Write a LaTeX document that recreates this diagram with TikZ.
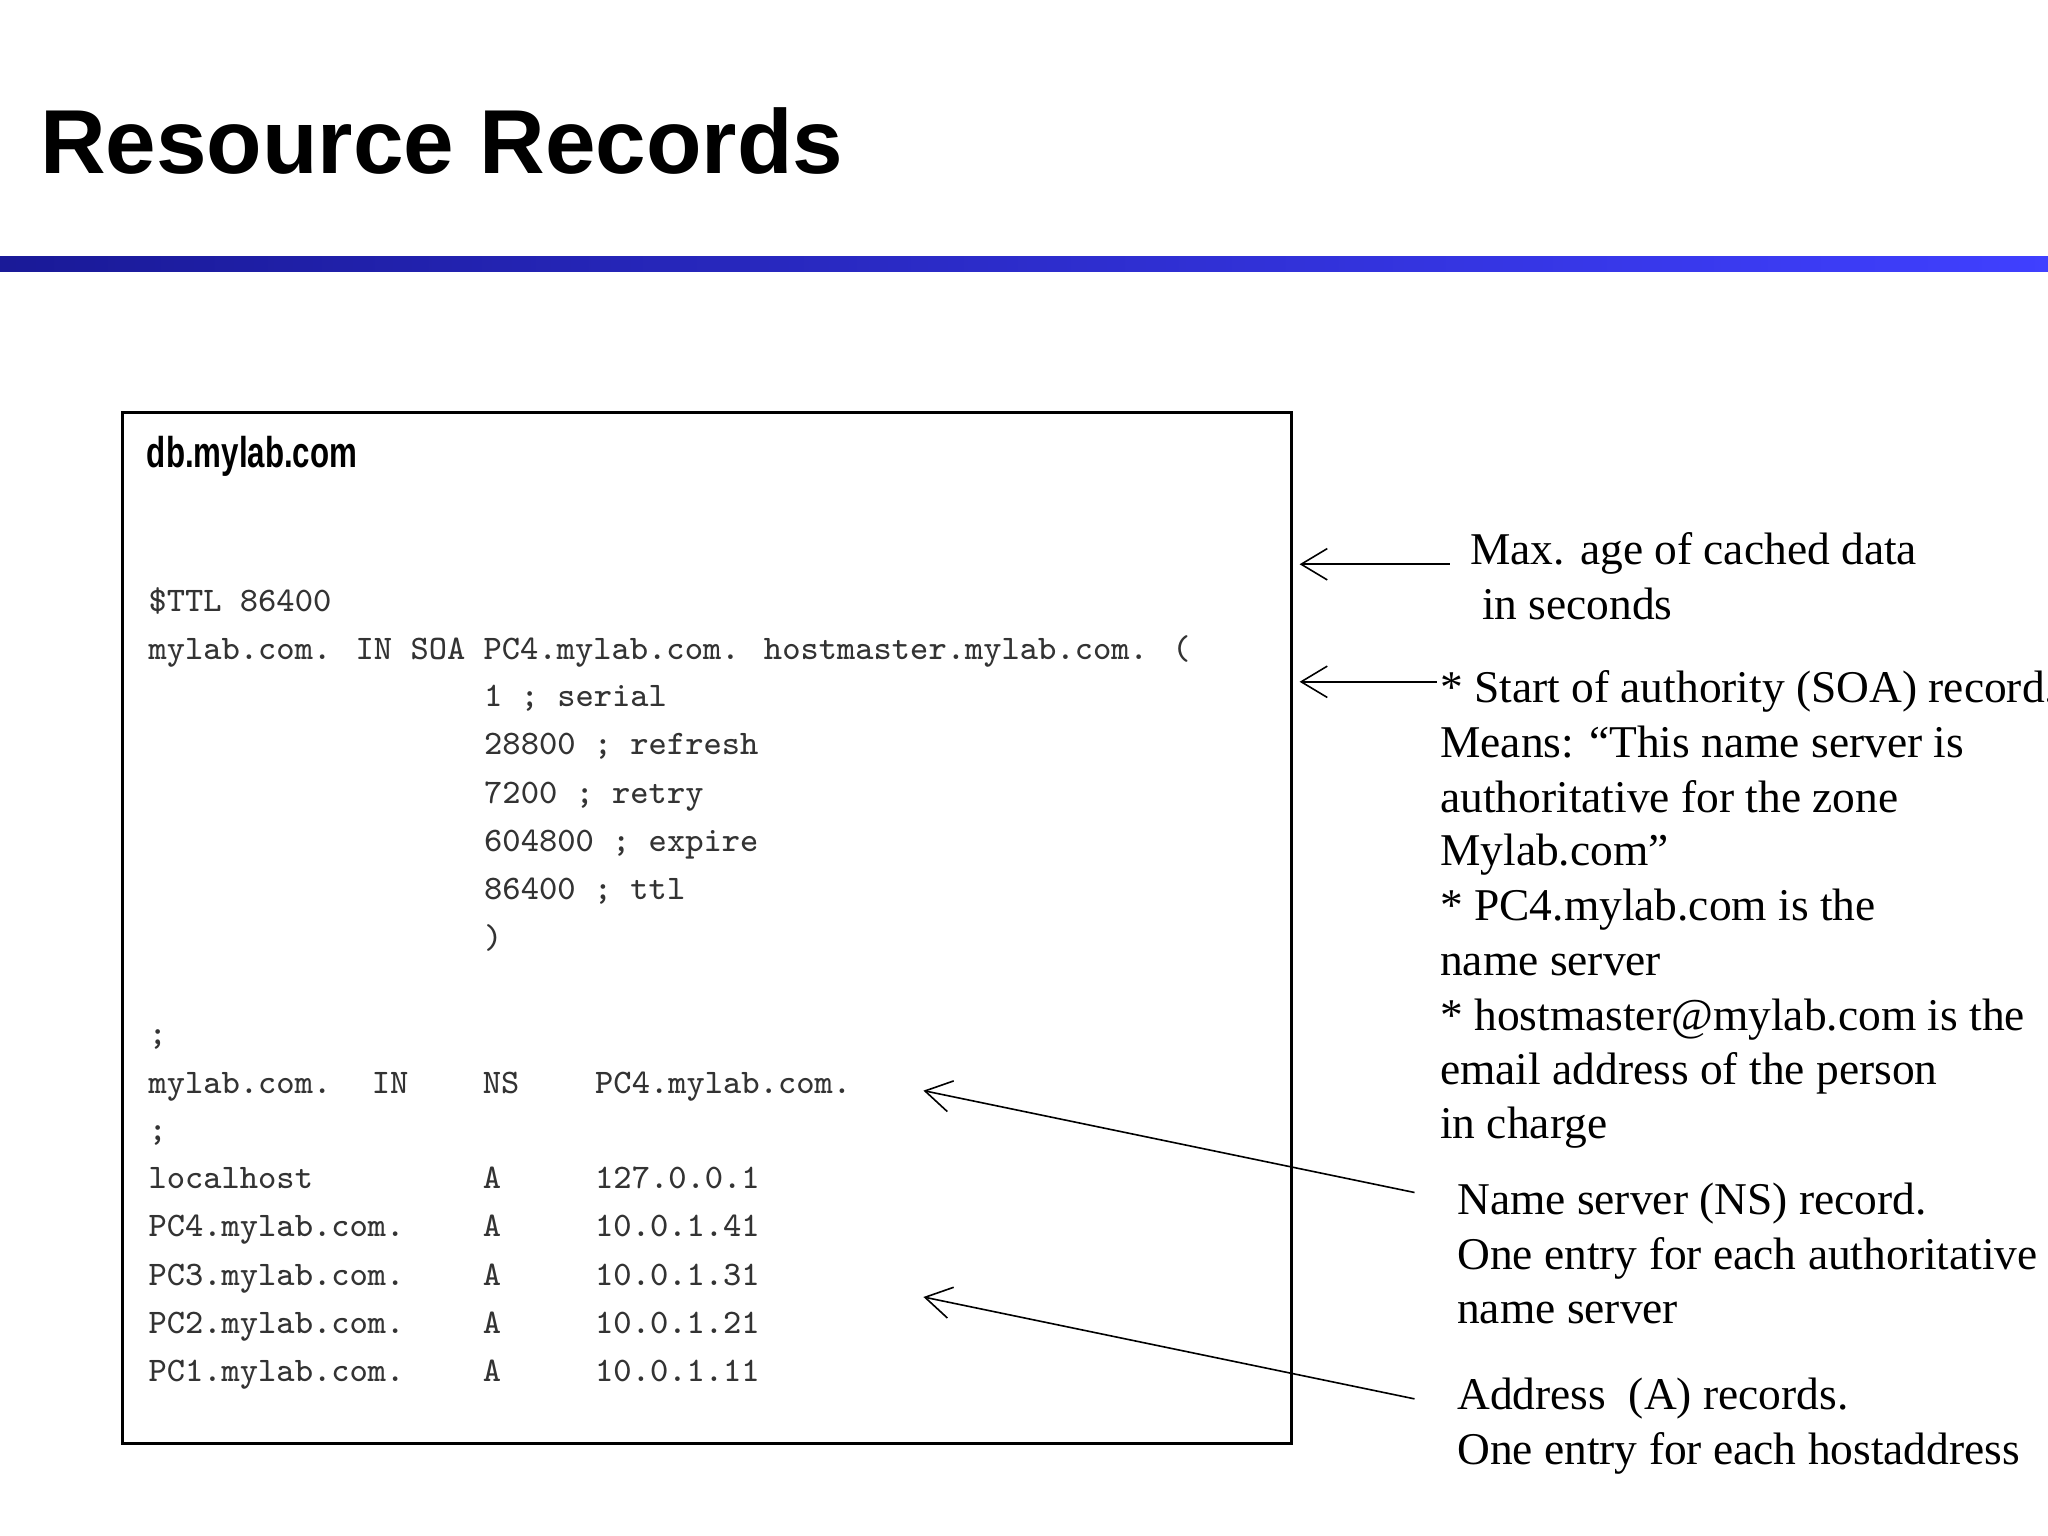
\documentclass[tikz,border=0pt]{standalone}
\usepackage{fontspec}
\setmainfont{Liberation Serif}
\setsansfont{Liberation Sans}
\usetikzlibrary{arrows.meta}
\begin{document}
\begin{tikzpicture}[x=0.1mm,y=-0.1mm,
  mono/.style={anchor=base west,inner sep=0,text=black!80,font=\fontsize{7.5}{10}\ttfamily},
  ann/.style={anchor=base west,inner sep=0,font=\fontsize{9.9}{11.95}\selectfont},
  arr/.style={-{Straight Barb[length=2mm,width=2.4mm]},line width=0.35pt}]
\useasboundingbox (0,0) rectangle (1568,1176);
\fill[white] (0,0) rectangle (1568,1176);
\node[anchor=base west,inner sep=0,font=\fontsize{19.8}{24}\sffamily\bfseries] (title) at (30,133) {Resource Records};
\shade[left color=blue!55!black!90,right color=blue!75] (0,196) rectangle (1568,208);
\draw[line width=0.6pt] (94,316) rectangle (989,1105);
\node[anchor=base west,inner sep=0,xscale=0.725,font=\fontsize{9.4}{11}\sffamily\bfseries] (fname) at (112,358) {db.mylab.com};
\def\xa{113}
\node[mono] (l1) at (\xa,468) {\$TTL 86400};
\node[mono] (l2) at (\xa,505) {mylab.com. IN SOA PC4.mylab.com. hostmaster.mylab.com. (};
\node[mono] (l3) at (370,541) {1 ; serial};
\node[mono] (l4) at (370,578) {28800 ; refresh};
\node[mono] (l5) at (370,615) {7200 ; retry};
\node[mono] (l6) at (370,652) {604800 ; expire};
\node[mono] (l7) at (370,689) {86400 ; ttl};
\node[mono] (l8) at (370,726) {)};
\node[mono] (l9) at (\xa,800) {;};
\node[mono] (n1) at (\xa,837) {mylab.com.};
\node[mono] (n2) at (284,837) {IN};
\node[mono] (n3) at (369,837) {NS};
\node[mono] (n4) at (455,837) {PC4.mylab.com.};
\node[mono] (l10) at (\xa,873) {;};
\foreach \y/\h/\ip [count=\i] in {910/localhost/127.0.0.1,947/PC4.mylab.com./10.0.1.41,984/PC3.mylab.com./10.0.1.31,1021/PC2.mylab.com./10.0.1.21,1058/PC1.mylab.com./10.0.1.11}{
  \node[mono] (h\i) at (\xa,\y) {\h};
  \node[mono] (t\i) at (369,\y) {A};
  \node[mono] (ip\i) at (455,\y) {\ip};
}
\node[ann] (ttl) at (1125,432) {Max. age of cached data};
\node[ann] (ttl2) at (1134,474) {in seconds};
\foreach \y/\t [count=\i] in {538/{* Start of authority (SOA) record.},580/{Means: “This name server is},622/{authoritative for the zone},663/{Mylab.com”},705/{* PC4.mylab.com is the},747/{name server},789/{* hostmaster@mylab.com is the},830/{email address of the person},872/{in charge}}
  \node[ann] (soa\i) at (1102,\y) {\t};
\foreach \y/\t [count=\i] in {930/{Name server (NS) record.},972/{One entry for each authoritative},1013/{name server}}
  \node[ann] (ns\i) at (1115,\y) {\t};
\node[ann] (ar1) at (1115,1079) {Address\ \ (A) records.};
\node[ann] (ar2) at (1115,1121) {One entry for each hostaddress};
\coordinate (c1s) at (1110,432); \coordinate (c1e) at (995,432);
\coordinate (c2s) at (1100,522); \coordinate (c2e) at (995,522);
\coordinate (c3s) at (1083,913); \coordinate (c3e) at (707,835);
\coordinate (c4s) at (1083,1071); \coordinate (c4e) at (707,993);
\draw[arr] (c1s) -- (c1e);
\draw[arr] (c2s) -- (c2e);
\draw[arr] (c3s) -- (c3e);
\draw[arr] (c4s) -- (c4e);
\end{tikzpicture}
\end{document}
